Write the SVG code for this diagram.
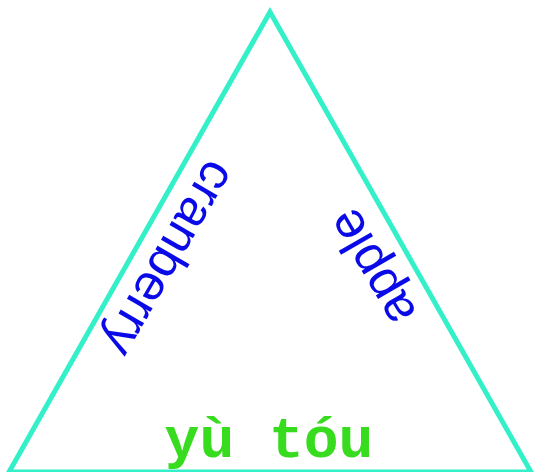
<svg xmlns="http://www.w3.org/2000/svg" width="535" height="472" viewBox="0 0 535 472">
<style>
.edge{fill:none;stroke:#33f0c8;stroke-width:5;stroke-linejoin:miter}
.lbl{font-family:"Liberation Sans",Arial,sans-serif;font-size:51px;fill:#0a0ae8;text-anchor:middle}
.base{font-family:"Liberation Mono","Courier New",monospace;font-weight:bold;font-size:58px;fill:#38dc1e;text-anchor:middle}
</style>
<g id="connectors">
<polygon class="edge" points="270,12 9,472 531,472"/>
</g>
<g id="edge-left"><text class="lbl" transform="translate(155,250) rotate(120)">cranberry</text></g>
<g id="edge-right"><text class="lbl" transform="translate(386,259) rotate(-120)">apple</text></g>
<g id="edge-bottom"><text class="base" x="269" y="457">yù tóu</text></g>
</svg>
